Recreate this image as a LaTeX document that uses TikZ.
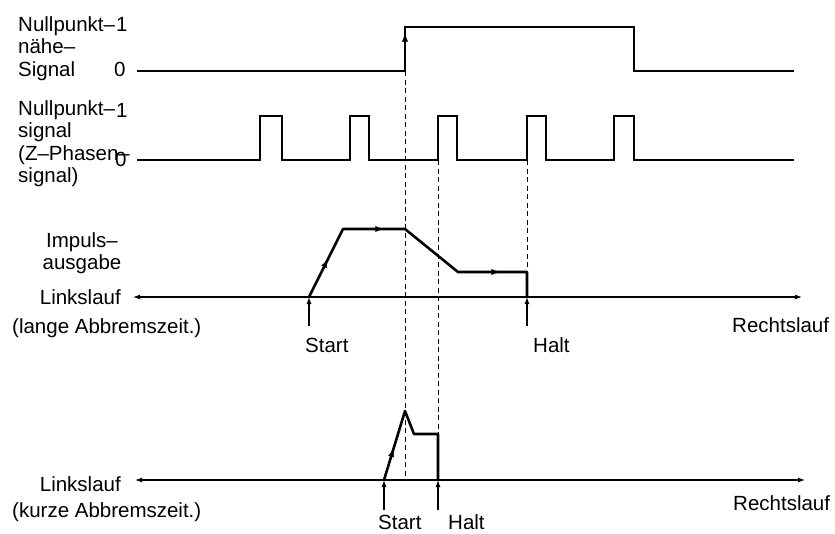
\documentclass[tikz,border=0pt]{standalone}
\usepackage{fontspec}
\setmainfont{Liberation Sans}
\usetikzlibrary{positioning,arrows.meta,decorations.markings}

\begin{document}
\begin{tikzpicture}[
    x=1pt, y=-1pt,
    lbl/.style={
        inner sep=0pt,
        font=\fontsize{20.5}{22.5}\selectfont
    },
    signal/.style={
        line width=2.5pt
    },
    profile/.style={
        line width=2.6pt,
        line join=round
    },
    axis/.style={
        line width=1.2pt,
        {Latex[length=7pt,width=5pt]}-{Latex[length=7pt,width=5pt]}
    },
    marker/.style={
        line width=1.2pt,
        -{Latex[length=7pt,width=5pt]}
    },
    guide/.style={
        line width=1pt,
        dash pattern=on 5pt off 3.5pt
    },
    flow/.style={
        decoration={markings,
            mark=at position #1 with {\arrow{Latex[length=8pt,width=6pt]}}},
        postaction={decorate}
    }
]
\useasboundingbox (0,0) rectangle (835,533);

% Key points
\coordinate (riseA) at (405,71);
\coordinate (riseAtop) at (405,27);
\coordinate (pulseC) at (438,160);
\coordinate (pulseD) at (527,160);

\coordinate (axAleft) at (133,297);
\coordinate (axAright) at (802,297);
\coordinate (stA) at (309,297);
\coordinate (upA) at (343,229);
\coordinate (topA) at (405,229);
\coordinate (downA) at (458,272);
\coordinate (lowA) at (527,272);
\coordinate (hlA) at (527,297);

\coordinate (axBleft) at (135,480);
\coordinate (axBright) at (805,480);
\coordinate (stB) at (384,480);
\coordinate (peakB) at (405,411);
\coordinate (downB) at (414,434);
\coordinate (lowB) at (438,434);
\coordinate (hlB) at (438,480);
\coordinate (guideB) at (405,480);

% Nullpunktnaehe-Signal
\node[lbl, anchor=north west, align=left] (nearlbl) at (18,16)
{Nullpunkt--\\
nähe--\\
Signal};
\node[lbl, anchor=base west] (nearone) at (116,31) {1};
\node[lbl, anchor=base west] (nearzero) at (114,76) {0};

\draw[signal] (137,71) -- (riseA) -- (riseAtop) -- (634,27) -- (634,71) -- (794,71);
\path[flow=0.85] (riseA) -- (riseAtop);

% Nullpunktsignal
\node[lbl, anchor=north west, align=left] (zerolbl) at (18,100)
{Nullpunkt--\\
signal\\
(Z--Phasen--\\
signal)};
\node[lbl, anchor=base west] (zeroone) at (116,117) {1};
\node[lbl, anchor=base west] (zerozero) at (115,166) {0};

\draw[signal] (137,160)
    foreach \a/\b in {260/282,350/369,438/457,527/546,614/634}
    { -- (\a,160) -- (\a,116) -- (\b,116) -- (\b,160) }
    -- (794,160);

% Guides
\draw[guide] (riseA) -- (guideB);
\draw[guide] (pulseC) -- (lowB);
\draw[guide] (pulseD) -- (lowA);

% Impulsausgabe, lange Abbremszeit
\node[lbl, anchor=north, align=center] (pulselbl) at (82,232)
{Impuls--\\
ausgabe};
\node[lbl, left=12pt of axAleft] (leftA) {Linkslauf};
\node[lbl, anchor=base west] (longlbl) at (12,333) {(lange Abbremszeit.)};
\node[lbl, anchor=base west] (rightA) at (732,332) {Rechtslauf};

\draw[axis] (axAleft) -- (axAright);
\draw[profile] (stA) -- (upA) -- (topA) -- (downA) -- (lowA) -- (hlA);
\path[flow=0.55] (stA) -- (upA);
\path[flow=0.65] (upA) -- (topA);
\path[flow=0.6] (downA) -- (lowA);

\node[lbl, anchor=base west] (startA) at (305,352) {Start};
\node[lbl, anchor=base west] (haltA) at (533,352) {Halt};
\draw[marker] (309,326) -- (stA);
\draw[marker] (527,326) -- (hlA);

% kurze Abbremszeit
\node[lbl, left=14pt of axBleft, yshift=-4pt] (leftB) {Linkslauf};
\node[lbl, anchor=base west] (shortlbl) at (12,517) {(kurze Abbremszeit.)};
\node[lbl, anchor=base west] (rightB) at (733,510) {Rechtslauf};

\draw[axis] (axBleft) -- (axBright);
\draw[profile] (stB) -- (peakB) -- (downB) -- (lowB) -- (hlB);
\path[flow=0.45] (stB) -- (peakB);

\node[lbl, anchor=base west] (startB) at (378,529) {Start};
\node[lbl, anchor=base west] (haltB) at (448,529) {Halt};
\draw[marker] (384,510) -- (stB);
\draw[marker] (438,510) -- (hlB);

\end{tikzpicture}
\end{document}
